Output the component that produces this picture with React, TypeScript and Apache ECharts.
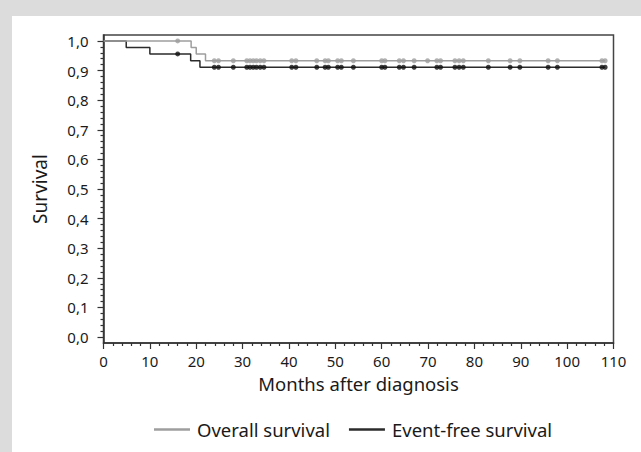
import React, { useEffect, useRef } from "react";
import * as echarts from "echarts";

// Kaplan–Meier step data (months, survival probability)
const osTimes = [0, 18.9, 20.0, 22.0, 108.2];
const osValues = [1, 0.978, 0.956, 0.933, 0.933];
const efsTimes = [0, 4.9, 10.0, 18.8, 20.8, 108.2];
const efsValues = [1, 0.978, 0.956, 0.933, 0.911, 0.911];

// Censoring times (months)
const osCensorTimes = [
  16, 23.9, 24.8, 28.0, 30.9, 31.6, 32.3, 33.0, 33.8, 34.6, 40.6, 41.5, 46.0,
  47.8, 48.5, 50.5, 51.3, 53.9, 60.0, 60.7, 63.8, 64.7, 67.0, 69.9, 71.9, 72.7,
  75.8, 76.7, 77.6, 83.0, 87.7, 89.8, 95.9, 97.9, 107.5, 108.2,
];
const efsCensorTimes = [
  16, 23.9, 24.8, 28.0, 30.9, 31.6, 32.3, 33.0, 33.8, 34.6, 40.6, 41.5, 46.0,
  47.8, 48.5, 50.5, 51.3, 53.9, 60.0, 60.7, 63.8, 64.7, 67.0, 71.9, 72.7,
  75.8, 76.7, 77.6, 83.0, 87.7, 89.8, 95.9, 97.9, 107.5, 108.2,
];

const yMajorTicks = [0, 0.1, 0.2, 0.3, 0.4, 0.5, 0.6, 0.7, 0.8, 0.9, 1.0];
const yMinorTicks = [
  0.02, 0.04, 0.06, 0.08, 0.12, 0.14, 0.16, 0.18, 0.22, 0.24, 0.26, 0.28, 0.32,
  0.34, 0.36, 0.38, 0.42, 0.44, 0.46, 0.48, 0.52, 0.54, 0.56, 0.58, 0.62, 0.64,
  0.66, 0.68, 0.72, 0.74, 0.76, 0.78, 0.82, 0.84, 0.86, 0.88, 0.92, 0.94, 0.96,
  0.98,
];

const seriesNames = ["Overall survival", "Event-free survival"];

function stepAt(times: number[], values: number[], t: number): number {
  let v = values[0];
  for (let i = 0; i < times.length; i++) {
    if (times[i] <= t) v = values[i];
  }
  return v;
}

const FONT = "Noto Sans";
const TEXT = "#1a1a1a";
const AXIS = "#333333";
const GRAY = "#9e9e9e";
const DARK = "#2b2b2b";

export default function App() {
  const ref = useRef<HTMLDivElement>(null);

  useEffect(() => {
    if (!ref.current) return;
    const chart = echarts.init(ref.current, undefined, { renderer: "svg" });
    const osLine = osTimes.map((t, i) => [t, osValues[i]]);
    const efsLine = efsTimes.map((t, i) => [t, efsValues[i]]);
    const osCens = osCensorTimes.map((t) => [t, stepAt(osTimes, osValues, t)]);
    const efsCens = efsCensorTimes.map((t) => [t, stepAt(efsTimes, efsValues, t)]);

    chart.setOption({
      animation: false,
      textStyle: { fontFamily: FONT, color: TEXT },
      grid: {
        left: 103.5,
        top: 35,
        width: 510,
        height: 308,
        show: true,
        borderColor: "#444",
        borderWidth: 1.5,
        backgroundColor: "transparent",
      },
      xAxis: {
        type: "value",
        min: 0,
        max: 110,
        interval: 10,
        name: "Months after diagnosis",
        nameLocation: "middle",
        nameGap: 31,
        nameTextStyle: { fontSize: 18.5, color: TEXT, fontFamily: FONT },
        axisLine: { onZero: false, lineStyle: { color: AXIS, width: 1.5 } },
        axisTick: { length: 6, lineStyle: { color: AXIS, width: 1.2 } },
        minorTick: { show: true, splitNumber: 5, length: 3, lineStyle: { color: AXIS, width: 1.2 } },
        axisLabel: { fontSize: 15, color: TEXT, margin: 10, fontFamily: FONT },
        splitLine: { show: false },
        minorSplitLine: { show: false },
      },
      yAxis: [
        {
          type: "value",
          position: "left",
          min: -0.02,
          max: 1.02,
          name: "Survival",
          nameLocation: "middle",
          nameGap: 54,
          nameTextStyle: { fontSize: 19, color: TEXT, fontFamily: FONT },
          axisLine: { show: true, lineStyle: { color: AXIS, width: 1.5 } },
          axisTick: { show: true, customValues: yMajorTicks, length: 6, lineStyle: { color: AXIS, width: 1.2 } },
          axisLabel: {
            customValues: yMajorTicks,
            fontSize: 15,
            color: TEXT,
            margin: 15,
            fontFamily: FONT,
            formatter: (v: number) => v.toFixed(1).replace(".", ","),
          },
          splitLine: { show: false },
        },
        {
          type: "value",
          position: "left",
          min: -0.02,
          max: 1.02,
          axisLine: { show: false },
          axisTick: { show: true, customValues: yMinorTicks, length: 3, lineStyle: { color: AXIS, width: 1.2 } },
          axisLabel: { show: false },
          splitLine: { show: false },
        },
      ],
      legend: {
        data: seriesNames,
        bottom: 8,
        left: 149,
        icon: "rect",
        itemWidth: 36,
        itemHeight: 2.5,
        itemGap: 19,
        textStyle: { fontSize: 18.5, color: TEXT, fontFamily: FONT, padding: [0, 0, 0, 2] },
      },
      series: [
        {
          name: seriesNames[1],
          type: "line",
          step: "end",
          data: efsLine,
          showSymbol: false,
          color: DARK,
          lineStyle: { color: DARK, width: 1.5 },
          z: 2,
        },
        {
          name: seriesNames[0],
          type: "line",
          step: "end",
          data: osLine,
          showSymbol: false,
          color: GRAY,
          lineStyle: { color: GRAY, width: 1.5 },
          z: 3,
        },
        {
          name: "EFS censored",
          type: "scatter",
          data: efsCens,
          symbol: "circle",
          symbolSize: 5,
          itemStyle: { color: "#111" },
          z: 4,
        },
        {
          name: "OS censored",
          type: "scatter",
          data: osCens,
          symbol: "circle",
          symbolSize: 5,
          itemStyle: { color: GRAY },
          z: 4,
        },
      ],
    });
    return () => chart.dispose();
  }, []);

  return (
    <div style={{ position: "absolute", left: 0, top: 0, width: 641, height: 452, background: "#dcdcdc" }}>
      <div style={{ position: "absolute", left: 12, top: 16, width: 629, height: 436, background: "#ffffff" }} />
      <div ref={ref} style={{ position: "absolute", left: 0, top: 0, width: 641, height: 452 }} />
    </div>
  );
}
